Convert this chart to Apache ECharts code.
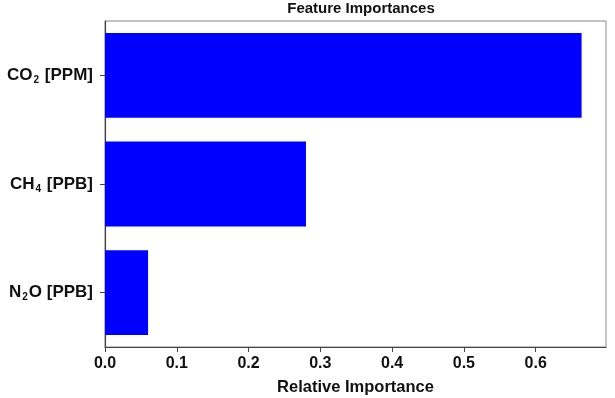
<!DOCTYPE html>
<html>
<head>
    <meta charset="utf-8">
    <title>Feature Importances</title>
    <style>
        * { margin: 0; padding: 0; }
        #main { width: 615px; height: 398px; }
    </style>
    <script src="https://cdn.jsdelivr.net/npm/echarts@6/dist/echarts.min.js"></script>
</head>
<body>
    <div id="main"></div>
    <script type="text/javascript">
        // 数据
        const features = ['N2O', 'CH4', 'CO2'];
        const featureLabels = ['{b|N}{s|2}{b|O [PPB]}', '{b|CH}{s|4}{b| [PPB]}', '{b|CO}{s|2}{b| [PPM]}'];
        const importances = [0.06, 0.28, 0.664];
        const xTicks = [0, 0.1, 0.2, 0.3, 0.4, 0.5, 0.6];

        const font = '"Liberation Sans", Arial, sans-serif';
        const chart = echarts.init(document.getElementById('main'));

        const option = {
            animation: false,
            title: {
                text: 'Feature Importances',
                left: 356,
                textAlign: 'center',
                top: -4,
                textStyle: { fontFamily: font, fontSize: 15, fontWeight: 'bold', color: '#111' }
            },
            grid: {
                left: 105, right: 9, top: 21, bottom: 51,
                outerBoundsMode: 'none',
                show: true, borderColor: '#888', borderWidth: 1,
                containLabel: false
            },
            xAxis: {
                type: 'value',
                min: 0, max: 0.698,
                interval: 0.1,
                splitLine: { show: false },
                axisLine: { show: true, lineStyle: { color: '#444', width: 1.2 } },
                axisTick: { show: true, length: 5, inside: false, lineStyle: { color: '#444' } },
                axisLabel: {
                    fontFamily: font, fontSize: 16, fontWeight: 'bold', color: '#111', margin: 9,
                    showMaxLabel: false,
                    formatter: v => xTicks.includes(Math.round(v * 10) / 10) ? v.toFixed(1) : ''
                },
                name: 'Relative Importance',
                nameLocation: 'middle',
                nameGap: 32,
                nameTextStyle: { fontFamily: font, fontSize: 16.5, fontWeight: 'bold', color: '#111' }
            },
            yAxis: {
                type: 'category',
                data: features,
                axisLine: { show: true, lineStyle: { color: '#444', width: 1.2 } },
                axisTick: { show: true, alignWithLabel: true, length: 5, lineStyle: { color: '#444' } },
                axisLabel: {
                    margin: 12,
                    formatter: (v, i) => featureLabels[i],
                    rich: {
                        b: { fontFamily: font, fontSize: 17, fontWeight: 'bold', color: '#111' },
                        s: { fontFamily: font, fontSize: 10, fontWeight: 'bold', color: '#111', verticalAlign: 'bottom', padding: [10, 1, 0, 1] }
                    }
                }
            },
            series: [{
                type: 'bar',
                data: importances,
                barCategoryGap: '22%',
                itemStyle: { color: '#0000ff' }
            }]
        };
        chart.setOption(option);
    </script>
</body>
</html>
